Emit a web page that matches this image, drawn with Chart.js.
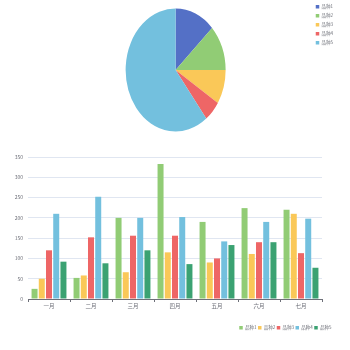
<!DOCTYPE html>
<html>
<head>
<meta charset="utf-8">
<script src="https://cdn.jsdelivr.net/npm/chart.js@4/dist/chart.umd.min.js"></script>
<style>
  html, body { margin: 0; padding: 0; background: #fff; width: 350px; height: 350px; overflow: hidden; }
  #pieBox { position: absolute; left: 0; top: 0; }
  #barBox { position: absolute; left: 0; top: 145px; }
</style>
</head>
<body>
<div id="pieBox"><canvas id="pie" width="350" height="140"></canvas></div>
<div id="barBox"><canvas id="bar" width="350" height="205"></canvas></div>
<script>
(function() {
  // pie data
  const pieLabels = ["品种1", "品种2", "品种3", "品种4", "品种5"];
  const pieValues = [13, 12, 9, 5.5, 60.5];

  // bar data
  const months = ["一月", "二月", "三月", "四月", "五月", "六月", "七月"];
  const seriesNames = ["品种1", "品种2", "品种3", "品种4", "品种5"];
  const s1 = [25, 52, 200, 333, 190, 224, 220];
  const s2 = [50, 58, 66, 115, 90, 111, 210];
  const s3 = [120, 152, 156, 156, 100, 140, 113];
  const s4 = [210, 252, 200, 202, 142, 190, 198];
  const s5 = [92, 88, 120, 86, 133, 140, 77];
  const yTicks = [0, 50, 100, 150, 200, 250, 300, 350];

  const PIE_COLORS = ["#5470c6", "#91cc75", "#fac858", "#ee6666", "#73c0de"];
  const BAR_COLORS = ["#91cc75", "#fac858", "#ee6666", "#73c0de", "#3ba272"];
  const FONT = "'Noto Sans CJK SC', 'Noto Sans', sans-serif";
  const TEXT = "#6e7079";

  // pie in the reference is taller than wide
  const PIE_STRETCH = 1.23;
  const stretchPie = {
    id: "stretchPie",
    beforeDatasetsDraw(chart) {
      const arc = chart.getDatasetMeta(0).data[0];
      const ctx = chart.ctx;
      ctx.save();
      ctx.translate(arc.x, arc.y);
      ctx.scale(1, PIE_STRETCH);
      ctx.translate(-arc.x, -arc.y);
    },
    afterDatasetsDraw(chart) {
      chart.ctx.restore();
    }
  };

  const legendLabels = {
    boxWidth: 3.5, boxHeight: 3.5, padding: 1.5,
    color: TEXT,
    font: { family: FONT, size: 4.5 }
  };

  new Chart(document.getElementById("pie"), {
    type: "pie",
    data: {
      labels: pieLabels,
      datasets: [{
        data: pieValues,
        backgroundColor: PIE_COLORS,
        borderWidth: 0
      }]
    },
    options: {
      responsive: false,
      animation: false,
      radius: 50,
      layout: { padding: { left: 40, right: 7 } },
      plugins: {
        tooltip: { enabled: false },
        legend: {
          position: "right",
          align: "start",
          labels: Object.assign({}, legendLabels, { padding: 4.5 })
        }
      }
    },
    plugins: [stretchPie]
  });

  const barSeries = [s1, s2, s3, s4, s5];

  new Chart(document.getElementById("bar"), {
    type: "bar",
    data: {
      labels: months,
      datasets: barSeries.map(function(vals, i) {
        return {
          label: seriesNames[i],
          data: vals,
          backgroundColor: BAR_COLORS[i],
          categoryPercentage: 0.86,
          barPercentage: 0.83
        };
      })
    },
    options: {
      responsive: false,
      animation: false,
      layout: { padding: { left: 0, right: 17, top: 12, bottom: 10 } },
      scales: {
        x: {
          grid: { drawOnChartArea: false, color: TEXT, tickLength: 3 },
          border: { color: TEXT },
          ticks: { color: TEXT, font: { family: FONT, size: 5.5 }, padding: 1 },
          afterFit: function(s) { s.height = 25; }
        },
        y: {
          min: 0, max: 350,
          afterBuildTicks: function(s) { s.ticks = yTicks.map(function(v) { return { value: v }; }); },
          grid: { color: "#e0e6f1", drawTicks: false },
          border: { display: false },
          ticks: { color: TEXT, font: { family: FONT, size: 5 }, padding: 5 },
          afterFit: function(s) { s.width = 28; }
        },
        // empty right gutter so the legend can sit further right than the plot
        gutter: {
          position: "right",
          grid: { display: false },
          border: { display: false },
          ticks: { display: false },
          afterFit: function(s) { s.width = 11; }
        }
      },
      plugins: {
        tooltip: { enabled: false },
        legend: {
          position: "bottom",
          align: "end",
          labels: legendLabels
        }
      }
    }
  });
})();
</script>
</body>
</html>
